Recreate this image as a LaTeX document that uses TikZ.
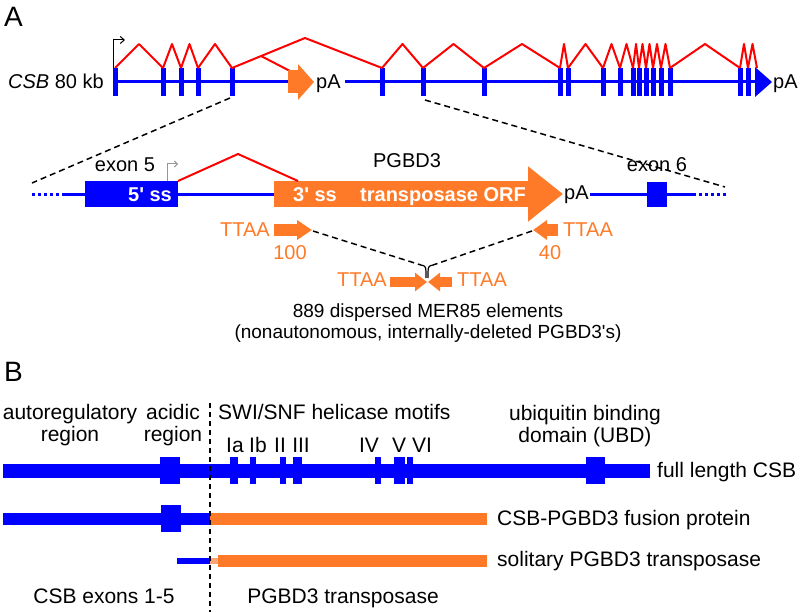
\documentclass[tikz,border=0pt]{standalone}
\usepackage{fontspec}
\setmainfont{Liberation Sans}
\usetikzlibrary{arrows.meta}

\definecolor{csbblue}{RGB}{0,0,255}
\definecolor{pgborange}{RGB}{255,122,40}
\definecolor{lightorange}{RGB}{250,165,115}
\definecolor{splicered}{RGB}{255,0,0}
\definecolor{tssgray}{RGB}{150,150,150}

\begin{document}
\begin{tikzpicture}[x=1pt, y=-1pt,
    every node/.style={inner sep=0pt, font=\fontsize{20}{22}\selectfont},
    panel/.style={font=\fontsize{28}{30}\selectfont, anchor=base west},
    ssbox/.style={white, anchor=base, font=\fontsize{20}{22}\selectfont\bfseries},
    ttaa/.style={pgborange},
    blabel/.style={font=\fontsize{21}{22}\selectfont, align=center},
    gene/.style={csbblue, line width=3pt},
    dots/.style={csbblue, line width=3pt, dash pattern=on 3pt off 3pt},
    splice/.style={splicered, line width=2pt, line join=round},
    zoomline/.style={black, line width=1.5pt, dash pattern=on 6pt off 4pt}]
    \useasboundingbox (0,0) rectangle (800,612);

    % ---- panel A: CSB gene, 80 kb
    \node[panel] (labA) at (4,27) {A};
    \node[anchor=base east] (csb) at (104,89) {\textit{CSB} 80 kb};
    \draw[gene] (115,82) -- (288,82);
    \draw[gene] (345,82) -- (757,82);
    \foreach \x in {115,163,181,198,232,382,423,484,560,568,603,620,633,639,646,653,661,670,740,748}
        \fill[csbblue] (\x-2.5,68) rectangle (\x+2.5,96);
    \fill[csbblue] (755,67) -- (772,82) -- (755,97) -- cycle;
    \node[anchor=base west] (pa2) at (773,89) {pA};
    \draw[line width=1pt, -{Straight Barb[length=4pt,width=7pt]}] (113,68) -- (113,40) -- (125,40);

    % splicing
    \foreach \a/\b in {115/163,163/181,181/198,198/232,382/423,423/484,484/560,560/568,568/603,603/620,620/633,633/639,639/646,646/653,653/661,661/670,670/740,740/748,748/757}
        \draw[splice] (\a,68) -- ({(\a+\b)/2},44) -- (\b,68);
    \draw[splice] (232,68) -- (305,38) -- (382,68);
    \draw[splice] (261,56) -- (290,71);

    % PGBD3 insertion in intron 5
    \draw[pgborange, line width=23pt, -{Triangle[length=16pt,width=35pt]}] (288,82) -- (314,82);
    \node[anchor=base west] (pa1) at (316,89) {pA};

    % ---- enlarged view exon 5 - exon 6
    \coordinate (ex5) at (230,98);
    \coordinate (ex6) at (425,100);
    \coordinate (zl) at (32,183);
    \coordinate (zr) at (725,187);
    \draw[zoomline] (ex5) -- (zl);
    \draw[zoomline] (ex6) -- (zr);

    \draw[dots] (32,195) -- (63,195);
    \draw[gene] (63,195) -- (274,195);
    \draw[gene] (590,195) -- (693,195);
    \draw[dots] (693,195) -- (727,195);
    \fill[csbblue] (85,181) rectangle (178,207);
    \fill[csbblue] (647,182) rectangle (667,207);
    \draw[tssgray, line width=1pt, -{Straight Barb[length=3pt,width=6pt]}] (167,181) -- (167,164) -- (178,164);
    \draw[pgborange, line width=26pt, -{Triangle[length=35pt,width=53pt]}] (274,194) -- (563,194);
    \draw[splice] (178,181) -- (238,154) -- (298,181);

    \node[ssbox] (ss5) at (150,202) {5\textquotesingle{} ss};
    \node[ssbox] (ss3) at (315,202) {3\textquotesingle{} ss};
    \node[ssbox] (orf) at (443,202) {transposase ORF};
    \node[anchor=base] (pgbd3) at (407,168) {PGBD3};
    \node[anchor=base] (exon5) at (125,172) {exon 5};
    \node[anchor=base] (exon6) at (657,172) {exon 6};
    \node[anchor=base west] (pa3) at (564,200) {pA};

    % target site duplications
    \draw[pgborange, line width=12pt, -{Triangle[length=15pt,width=19pt]}] (274,230) -- (312,230);
    \draw[pgborange, line width=12pt, -{Triangle[length=14pt,width=19pt]}] (558,230) -- (533,230);
    \node[ttaa, anchor=base east] (ttaa1) at (270,237) {TTAA};
    \node[ttaa, anchor=base west] (ttaa2) at (563,237) {TTAA};
    \node[ttaa, anchor=base] (n100) at (290,259) {100};
    \node[ttaa, anchor=base] (n40) at (550,259) {40};

    \coordinate (tl) at (313,231);
    \coordinate (tr) at (532,231);
    \coordinate (fl) at (421,265);
    \coordinate (fr) at (433,265);
    \draw[zoomline] (tl) -- (fl);
    \draw[zoomline] (tr) -- (fr);
    \draw[line width=1.2pt] (fl) .. controls (426,266) .. (426,278);
    \draw[line width=1.2pt] (fr) .. controls (428,266) .. (428,278);

    \draw[pgborange, line width=9pt, -{Triangle[length=12pt,width=18pt]}] (390,282) -- (427,282);
    \draw[pgborange, line width=9pt, -{Triangle[length=12pt,width=18pt]}] (452,282) -- (428,282);
    \node[ttaa, anchor=base east] (ttaa3) at (387,287) {TTAA};
    \node[ttaa, anchor=base west] (ttaa4) at (457,287) {TTAA};

    \node[anchor=base, font=\fontsize{19}{21}\selectfont] (mer85) at (428,317) {889 dispersed MER85 elements};
    \node[anchor=base, font=\fontsize{19}{21}\selectfont] (mer85b) at (428,338) {(nonautonomous, internally-deleted PGBD3\textquotesingle{}s)};

    % ---- panel B: proteins
    \node[panel] (labB) at (4,381) {B};
    \fill[csbblue] (3,464) rectangle (650,478);
    \foreach \a/\b in {160/180,230/238,250/256,280/286,293/302,375/381,394/405,407/413,586/605}
        \fill[csbblue] (\a,457) rectangle (\b,484);
    \fill[csbblue] (3,513) rectangle (210,525);
    \fill[csbblue] (161,505) rectangle (181,532);
    \fill[pgborange] (210,513) rectangle (487,525);
    \fill[csbblue] (177,558) rectangle (210,564);
    \fill[lightorange] (210,558) rectangle (218,564);
    \fill[pgborange] (218,555) rectangle (487,567);

    \node[blabel, anchor=base] (autoreg) at (70,441) {autoregulatory\\region};
    \node[blabel, anchor=base] (acidic) at (173,441) {acidic\\region};
    \node[blabel, anchor=base west] (swisnf) at (218,419) {SWI/SNF helicase motifs};
    \node[blabel, anchor=base] (ubd) at (585,442) {ubiquitin binding\\domain (UBD)};
    \foreach \m/\x in {Ia/235,Ib/258,II/280,III/301,IV/369,V/399,VI/422}
        \node[blabel, anchor=base] (m\m) at (\x,452) {\m};

    \node[blabel, anchor=base west] (full) at (657,477) {full length CSB};
    \node[blabel, anchor=base west] (fusion) at (497,525) {CSB-PGBD3 fusion protein};
    \node[blabel, anchor=base west] (solo) at (497,566) {solitary PGBD3 transposase};
    \node[blabel, anchor=base] (csbex) at (104,603) {CSB exons 1-5};
    \node[blabel, anchor=base] (pgbtp) at (343,603) {PGBD3 transposase};

    \draw[zoomline, dash pattern=on 5pt off 4pt] (210,403) -- (210,612);
\end{tikzpicture}
\end{document}
